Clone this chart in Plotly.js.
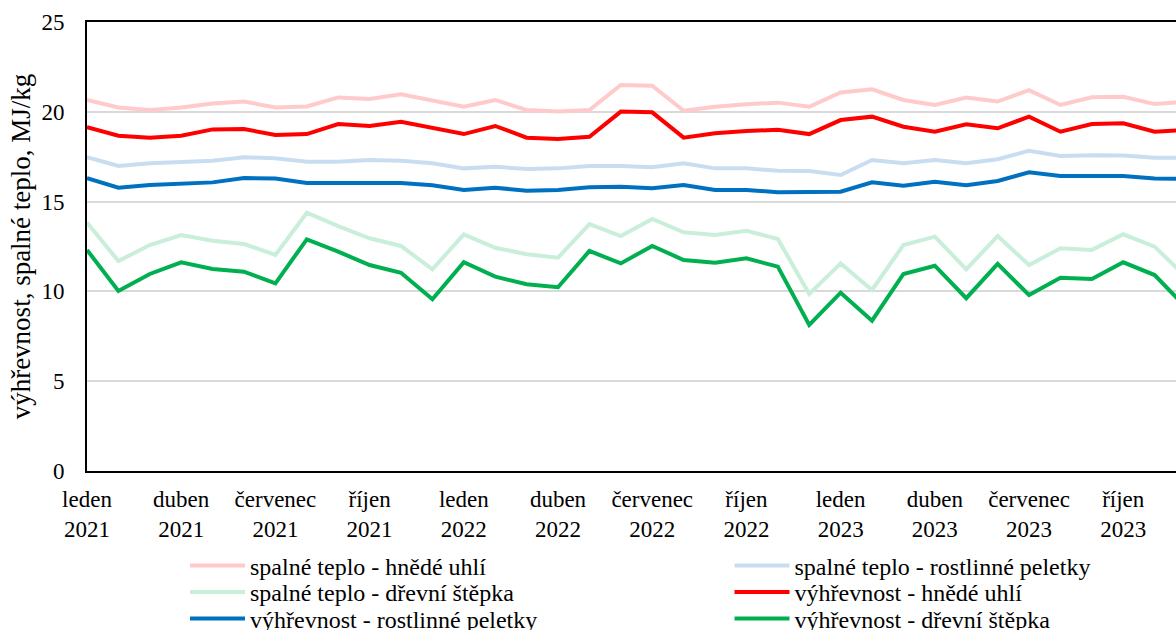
<!DOCTYPE html>
<html>
<head>
<meta charset="utf-8">
<script src="https://cdn.plot.ly/plotly-3.0.1.min.js"></script>
<style>
html,body{margin:0;padding:0;background:#fff;}
#chart{width:1176px;height:630px;}
</style>
</head>
<body>
<div id="chart"></div>
<script>
const monthNames = ["leden","únor","březen","duben","květen","červen","červenec","srpen","září","říjen","listopad","prosinec"];
const years = [2021, 2022, 2023];
const months = [];
years.forEach(y => monthNames.forEach(m => months.push(m + " " + y)));

const spalneHnedeUhli = [20.66,20.24,20.10,20.24,20.46,20.57,20.24,20.30,20.80,20.71,20.97,20.62,
  20.28,20.66,20.10,20.01,20.10,21.49,21.45,20.06,20.28,20.42,20.51,20.28,
  21.08,21.25,20.66,20.38,20.79,20.57,21.21,20.38,20.81,20.84,20.43,20.55];
const spalneRostlinnePeletky = [17.47,16.98,17.13,17.19,17.28,17.47,17.41,17.22,17.22,17.32,17.28,17.13,
  16.85,16.94,16.82,16.85,16.98,16.98,16.91,17.13,16.85,16.85,16.72,16.70,
  16.48,17.32,17.13,17.32,17.13,17.36,17.83,17.54,17.58,17.56,17.44,17.44];
const spalneDrevniStepka = [13.83,11.69,12.58,13.14,12.82,12.64,12.03,14.38,13.64,12.96,12.53,11.23,
  13.18,12.43,12.07,11.88,13.75,13.08,14.03,13.29,13.14,13.38,12.92,9.86,
  11.56,10.08,12.58,13.05,11.23,13.08,11.47,12.40,12.31,13.18,12.49,10.80];
const vyhrevnostHnedeUhli = [19.14,18.67,18.56,18.67,19.02,19.04,18.71,18.76,19.32,19.21,19.45,19.08,
  18.76,19.21,18.56,18.49,18.61,20.01,19.97,18.56,18.80,18.93,19.00,18.76,
  19.54,19.73,19.17,18.89,19.30,19.08,19.73,18.89,19.32,19.36,18.89,19.00];
const vyhrevnostRostlinnePeletky = [16.30,15.77,15.92,15.98,16.07,16.31,16.28,16.04,16.04,16.09,16.04,15.91,
  15.65,15.77,15.61,15.65,15.80,15.83,15.74,15.92,15.65,15.65,15.52,15.53,
  15.55,16.07,15.89,16.11,15.91,16.15,16.63,16.43,16.43,16.43,16.28,16.26];
const vyhrevnostDrevniStepka = [12.31,10.02,10.97,11.62,11.25,11.10,10.45,12.90,12.21,11.47,11.04,9.56,
  11.62,10.82,10.40,10.23,12.25,11.56,12.53,11.75,11.60,11.84,11.38,8.13,
  9.93,8.37,10.97,11.43,9.62,11.53,9.80,10.76,10.69,11.62,10.91,9.10];

const seriesNames = ["spalné teplo - hnědé uhlí","spalné teplo - rostlinné peletky","spalné teplo - dřevní štěpka",
  "výhřevnost - hnědé uhlí","výhřevnost - rostlinné peletky","výhřevnost - dřevní štěpka"];
const seriesData = [spalneHnedeUhli, spalneRostlinnePeletky, spalneDrevniStepka,
  vyhrevnostHnedeUhli, vyhrevnostRostlinnePeletky, vyhrevnostDrevniStepka];
const seriesColors = ["#FFCACA","#C9DDF1","#C9EEDA","#FF0000","#0070C0","#00B050"];
const yTitle = "výhřevnost, spalné teplo, MJ/kg";

const tickIdx = [];
for (let i = 0; i <= 33; i += 3) tickIdx.push(i);
const tickVals = tickIdx.map(i => months[i]);
const tickText = tickIdx.map(i => months[i].replace(" ", "<br>"));

const FONT = "Liberation Serif";
const legendIds = ["legend","legend2","legend3","legend4","legend5","legend6"];

const traces = seriesData.map((d, k) => ({
  type: "scatter", mode: "lines", name: seriesNames[k],
  x: months, y: d,
  legend: legendIds[k],
  line: {color: seriesColors[k], width: 4}
}));

const layout = {
  width: 1176, height: 630,
  margin: {l: 87, r: 0, t: 22, b: 159, autoexpand: false},
  paper_bgcolor: "#fff", plot_bgcolor: "#fff",
  font: {family: FONT, size: 23, color: "#000000"},
  showlegend: true,
  xaxis: {
    type: "category", range: [0, 34.68], tickmode: "array", tickvals: tickVals, ticktext: tickText,
    showgrid: false, showline: true, linecolor: "#000", linewidth: 2, mirror: true,
    ticks: "", ticklabelstandoff: 6, zeroline: false,
    tickfont: {family: FONT, size: 23, color: "#000000"}
  },
  yaxis: {
    range: [0, 25], tickvals: [0,5,10,15,20,25], showgrid: true, gridcolor: "#D9D9D9", gridwidth: 1.5,
    showline: true, linecolor: "#000", linewidth: 2, ticks: "", zeroline: false,
    ticklabelstandoff: 16, tickfont: {family: FONT, size: 23, color: "#000000"},
    title: {text: yTitle, font: {family: FONT, size: 27, color: "#000000"}, standoff: 3}
  }
};
const colX = [0.09, 0.59];
const rowY = [-0.2116, -0.2706, -0.3296];
legendIds.forEach((id, k) => {
  layout[id] = {
    orientation: "v", xanchor: "left", yanchor: "middle",
    x: colX[k % 2], y: rowY[Math.floor(k / 2)],
    itemwidth: 55, bgcolor: "rgba(0,0,0,0)",
    font: {family: FONT, size: 24, color: "#000000"}
  };
});

Plotly.newPlot("chart", traces, layout, {displayModeBar: false});
</script>
</body>
</html>
